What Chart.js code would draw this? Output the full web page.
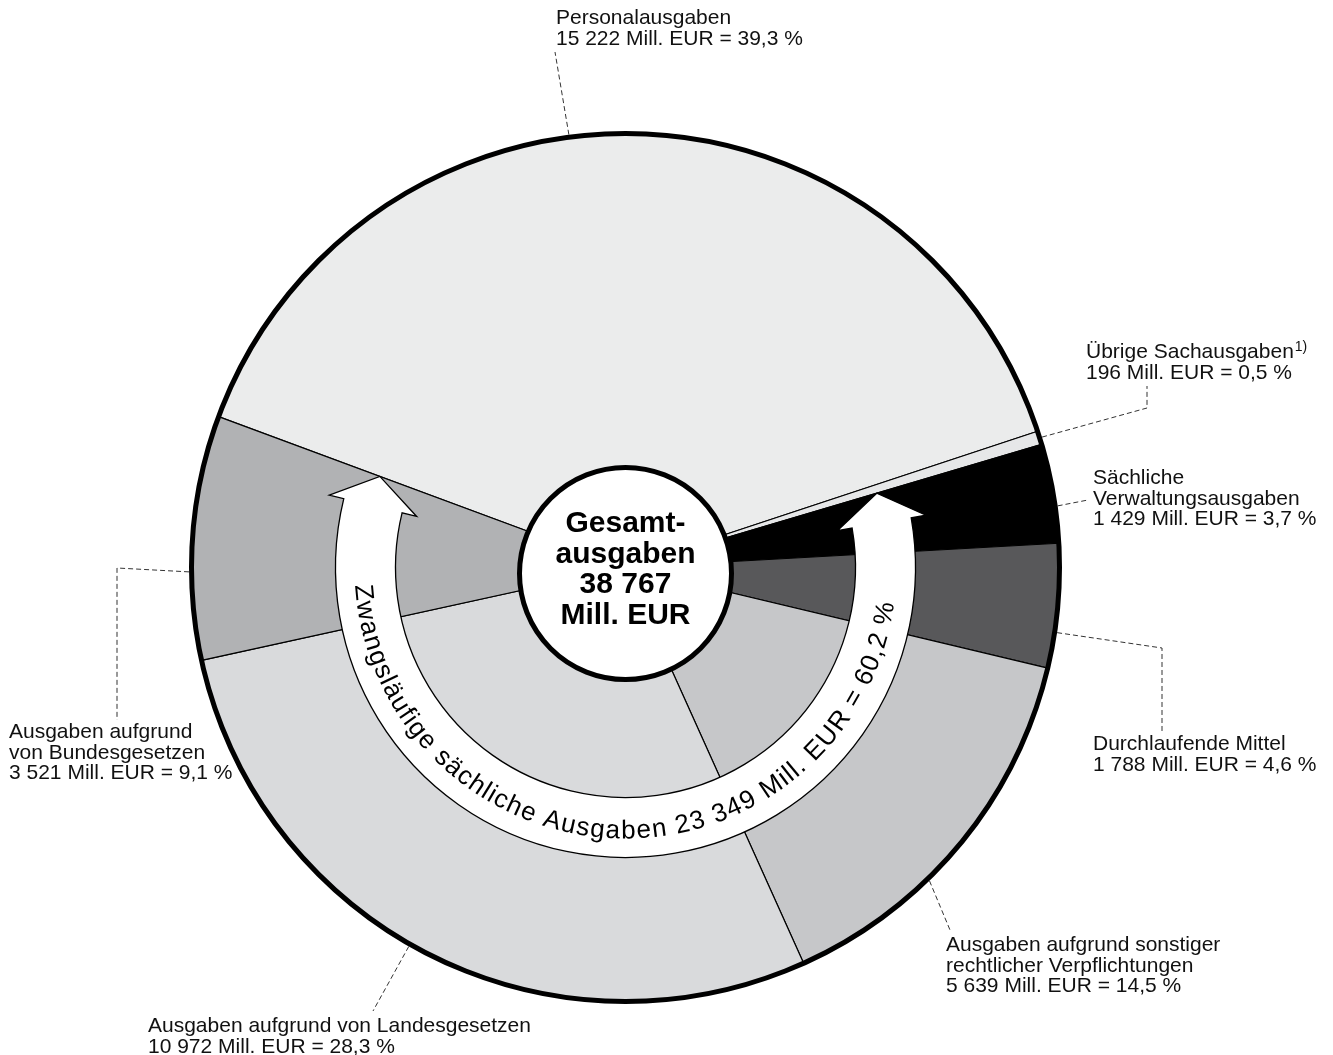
<!DOCTYPE html>
<html lang="de">
<head>
<meta charset="utf-8">
<title>Gesamtausgaben 38 767 Mill. EUR</title>
<script src="https://cdn.jsdelivr.net/npm/chart.js@4.4.1/dist/chart.umd.min.js"></script>
<style>
  html, body { margin: 0; padding: 0; background: #ffffff; }
  #wrap { position: relative; width: 1333px; height: 1055px; }
  canvas { display: block; }
</style>
</head>
<body>
<div id="wrap"><canvas id="chart" width="1333" height="1055"></canvas></div>
<script>
// Ausgabenarten (Reihenfolge im Uhrzeigersinn, beginnend mit den Personalausgaben)
const categories = [
  'Personalausgaben',
  'Übrige Sachausgaben',
  'Sächliche Verwaltungsausgaben',
  'Durchlaufende Mittel',
  'Ausgaben aufgrund sonstiger rechtlicher Verpflichtungen',
  'Ausgaben aufgrund von Landesgesetzen',
  'Ausgaben aufgrund von Bundesgesetzen'
];
// Mill. EUR
const values = [15222, 196, 1429, 1788, 5639, 10972, 3521];
// Beschriftungszeilen je Segment (die Wertzeile wird angehängt)
const labelLines = [
  ['Personalausgaben'],
  ['Übrige Sachausgaben'],
  ['Sächliche', 'Verwaltungsausgaben'],
  ['Durchlaufende Mittel'],
  ['Ausgaben aufgrund sonstiger', 'rechtlicher Verpflichtungen'],
  ['Ausgaben aufgrund von Landesgesetzen'],
  ['Ausgaben aufgrund', 'von Bundesgesetzen']
];
const footnoteMarks = ['', '1)', '', '', '', '', ''];
// Segmente der zwangsläufigen sächlichen Ausgaben (Pfeil)
const compulsoryIdx = [2, 3, 4, 5, 6];
const centerTitle = ['Gesamt-', 'ausgaben'];
const unit = 'Mill. EUR';

// ---- Darstellung ----
const sliceColors = ['#ebecec', '#e6e7e8', '#000000', '#58585a', '#c6c7c9', '#d9dadc', '#b1b2b4'];
const FONT = '"Liberation Sans", Arial, Helvetica, sans-serif';
const LABEL_SIZE = 21, LABEL_LEAD = 20.5;

// Position der Beschriftungen und Führungslinien (Anteil innerhalb des Segments, Knickpunkte)
const labelLayout = [
  { x: 556,  y: 24,   touch: 0.44, path: [[555, 52]] },
  { x: 1086, y: 358,  touch: 0.50, path: [[1147, 408], [1147, 386]] },
  { x: 1093, y: 484,  touch: 0.63, path: [[1088, 500]] },
  { x: 1093, y: 750,  touch: 0.71, path: [[1162, 648], [1162, 733]] },
  { x: 946,  y: 951,  touch: 0.62, path: [[950, 930]] },
  { x: 148,  y: 1032, touch: 0.53, path: [[373, 1011]] },
  { x: 9,    y: 738,  touch: 0.36, path: [[117, 568], [117, 720]] }
];

const total = values.reduce((a, b) => a + b, 0);
const fmtNum = v => String(v).replace(/\B(?=(\d{3})+(?!\d))/g, ' ');
const fmtPct = v => (Math.round(v / total * 1000) / 10).toFixed(1).replace('.', ',');
const valueLine = v => fmtNum(v) + ' ' + unit + ' = ' + fmtPct(v) + ' %';

const overlay = {
  id: 'overlay',
  afterDatasetsDraw(chart) {
    const ctx = chart.ctx;
    const arcs = chart.getDatasetMeta(0).data;
    const cx = arcs[0].x, cy = arcs[0].y, R = arcs[0].outerRadius;
    const P = (r, a) => [cx + r * Math.cos(a), cy + r * Math.sin(a)];

    // --- Pfeil der zwangsläufigen sächlichen Ausgaben ---
    const a0 = arcs[compulsoryIdx[0]].startAngle;
    const a1 = arcs[compulsoryIdx[compulsoryIdx.length - 1]].endAngle;
    const rIn = 230, rOut = 290, rMid = (rIn + rOut) / 2;
    const headA = 30 / rMid;
    const wingIn = 215, wingOut = 305;
    const b0 = a0 + headA, b1 = a1 - headA;
    ctx.save();
    ctx.beginPath();
    ctx.moveTo(...P(rMid + 2, a0));
    ctx.lineTo(...P(wingOut, b0));
    ctx.lineTo(...P(rOut, b0));
    ctx.arc(cx, cy, rOut, b0, b1, false);
    ctx.lineTo(...P(wingOut, b1));
    ctx.lineTo(...P(rMid + 2, a1));
    ctx.lineTo(...P(wingIn, b1));
    ctx.lineTo(...P(rIn, b1));
    ctx.arc(cx, cy, rIn, b1, b0, true);
    ctx.lineTo(...P(wingIn, b0));
    ctx.closePath();
    ctx.fillStyle = '#ffffff';
    ctx.fill();
    ctx.lineWidth = 1.3;
    ctx.lineJoin = 'miter';
    ctx.strokeStyle = '#000000';
    ctx.stroke();

    // Schrift entlang des Pfeils
    const compSum = compulsoryIdx.reduce((s, i) => s + values[i], 0);
    const arcText = 'Zwangsläufige sächliche Ausgaben ' + fmtNum(compSum) + ' ' + unit + ' = ' + fmtPct(compSum) + ' %';
    ctx.font = '26px ' + FONT;
    ctx.fillStyle = '#000000';
    ctx.textAlign = 'center';
    ctx.textBaseline = 'alphabetic';
    const spacing = 0.9;
    const rAdv = 262, rBase = 271;
    const chars = Array.from(arcText);
    const widths = chars.map(ch => ctx.measureText(ch).width);
    const textW = widths.reduce((a, b) => a + b, 0) + spacing * (chars.length - 1);
    const mid = (a0 + a1) / 2;
    let th = mid + (textW / 2) / rAdv;
    chars.forEach((ch, i) => {
      const w = widths[i];
      const tc = th - (w / 2) / rAdv;
      ctx.save();
      ctx.translate(...P(rBase, tc));
      ctx.rotate(tc - Math.PI / 2);
      ctx.fillText(ch, 0, 0);
      ctx.restore();
      th -= (w + spacing) / rAdv;
    });
    ctx.restore();

    // --- kräftiger Außenrand ---
    ctx.save();
    ctx.beginPath();
    ctx.arc(cx, cy, R, 0, Math.PI * 2);
    ctx.lineWidth = 5;
    ctx.strokeStyle = '#000000';
    ctx.stroke();
    ctx.restore();

    // --- Mittelkreis mit Gesamtsumme ---
    ctx.save();
    ctx.beginPath();
    ctx.arc(cx, cy + 6, 106, 0, Math.PI * 2);
    ctx.fillStyle = '#ffffff';
    ctx.fill();
    ctx.lineWidth = 5;
    ctx.strokeStyle = '#000000';
    ctx.stroke();
    const centerLines = centerTitle.concat([fmtNum(total), unit]);
    ctx.font = 'bold 30px ' + FONT;
    ctx.fillStyle = '#000000';
    ctx.textAlign = 'center';
    ctx.textBaseline = 'alphabetic';
    const lead = 30.7;
    centerLines.forEach((t, i) => {
      ctx.fillText(t, cx, cy + (i - (centerLines.length - 1) / 2) * lead + 10.5);
    });
    ctx.restore();

    // --- Führungslinien ---
    ctx.save();
    ctx.setLineDash([5, 3]);
    ctx.lineWidth = 1;
    ctx.strokeStyle = '#333333';
    labelLayout.forEach((L, i) => {
      const a = arcs[i];
      const ang = a.startAngle + (a.endAngle - a.startAngle) * L.touch;
      ctx.beginPath();
      ctx.moveTo(...P(R + 2.5, ang));
      L.path.forEach(p => ctx.lineTo(p[0], p[1]));
      ctx.stroke();
    });
    ctx.restore();

    // --- Beschriftungen ---
    ctx.save();
    ctx.fillStyle = '#111111';
    ctx.textAlign = 'left';
    ctx.textBaseline = 'alphabetic';
    labelLayout.forEach((L, i) => {
      const lines = labelLines[i].concat([valueLine(values[i])]);
      lines.forEach((t, k) => {
        ctx.font = LABEL_SIZE + 'px ' + FONT;
        const y = L.y + k * LABEL_LEAD;
        ctx.fillText(t, L.x, y);
        if (k === 0 && footnoteMarks[i]) {
          const w = ctx.measureText(t).width;
          ctx.font = '14px ' + FONT;
          ctx.fillText(footnoteMarks[i], L.x + w + 1, y - 7);
        }
      });
    });
    ctx.restore();
  }
};

new Chart(document.getElementById('chart').getContext('2d'), {
  type: 'pie',
  data: {
    labels: categories,
    datasets: [{
      data: values,
      backgroundColor: sliceColors,
      borderColor: '#000000',
      borderWidth: 1.2,
      radius: 434,
      hoverOffset: 0
    }]
  },
  options: {
    responsive: false,
    animation: false,
    events: [],
    rotation: 290.35,
    layout: { padding: { left: 0, right: 82, top: 80, bottom: 0 } },
    plugins: {
      legend: { display: false },
      tooltip: { enabled: false }
    }
  },
  plugins: [overlay]
});
</script>
</body>
</html>
